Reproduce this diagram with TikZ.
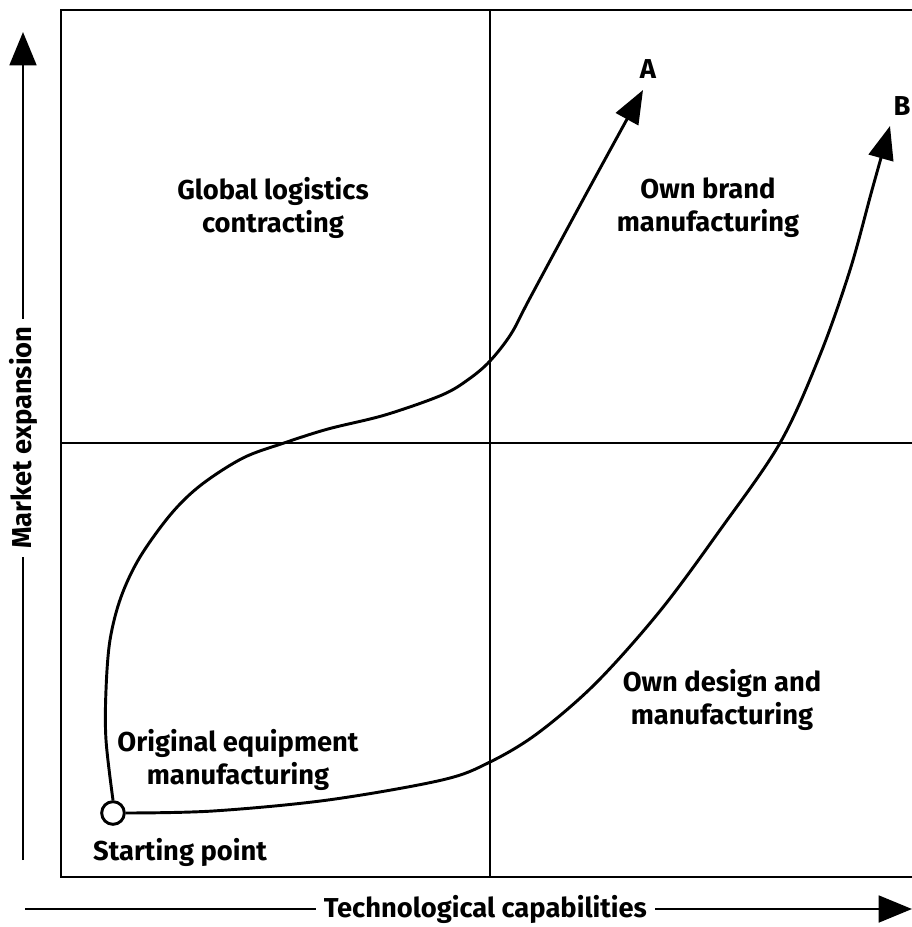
\documentclass[tikz,border=0pt]{standalone}
\usepackage{fontspec}
\setmainfont{Fira Sans}
\usetikzlibrary{arrows.meta}
\tikzset{
  lbl/.style={font=\bfseries\fontsize{20.5}{24.75}\selectfont, align=center, inner sep=1pt},
  frame/.style={line width=2.2pt},
  divider/.style={line width=2pt},
  axis/.style={line width=2.2pt, -{Triangle[length=25pt,width=20pt]}},
  path/.style={line width=2.2pt, -{Triangle[length=25pt,width=19pt]}},
}
\begin{document}
\begin{tikzpicture}[x=0.75pt,y=-0.75pt]
\useasboundingbox (0,0) rectangle (912,927);
% frame
\draw[frame] (925,10) -- (61,10) -- (61,877) -- (925,877);
\draw[divider] (490,10) -- (490,877);
\draw[divider] (61,443) -- (925,443);
% axes
\coordinate (ybot) at (23,860);
\coordinate (ytop) at (23,32);
\coordinate (xl) at (25,909);
\coordinate (xr) at (912,909);
\draw[axis] (ybot) -- node[pos=0.51, fill=white, rotate=90, lbl, inner sep=6pt] (ylab) {Market expansion} (ytop);
\draw[axis] (xl) -- node[pos=0.519, fill=white, lbl, inner sep=6pt] (xlab) {Technological capabilities} (xr);
% labels
\node[lbl] (glc) at (273,208) {Global logistics\\contracting};
\node[lbl] (obm) at (708,208) {Own brand\\manufacturing};
\node[lbl] (odm) at (722,700) {Own design and\\manufacturing};
\node[lbl] (oem) at (238,760) {Original equipment\\manufacturing};
\node[lbl] (spl) at (180,852) {Starting point};
\node[lbl] (la) at (648,69) {A};
\node[lbl] (lb) at (902,106) {B};
% starting point
\node[circle, draw, line width=2.2pt, fill=white, minimum size=17pt, inner sep=0pt] (sp) at (113,813) {};
\coordinate (tipA) at (643,90);
\coordinate (tipB) at (890,126);
\draw[path] plot[smooth, tension=0.55] coordinates {(sp.north) (106,740) (106,690) (110,640) (121,597) (140,557) (171,514) (201,485) (243,458) (284,443) (328,429) (385,415) (442,395) (469,379) (490,361) (511,334) (530,298) (585,196) (tipA)};
\draw[path] plot[smooth, tension=0.55] coordinates {(sp.east) (213,811) (328,800) (442,780) (490,762) (538,733) (596,683) (660,611) (720,530) (780,443) (820,355) (850,270) (872,190) (tipB)};
\end{tikzpicture}
\end{document}
